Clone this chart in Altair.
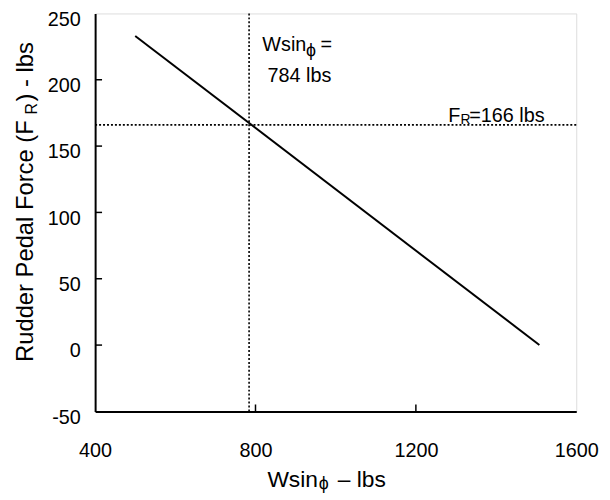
import altair as alt
import pandas as pd

# data
force_x = [500, 1508]
force_y = [233, 0]
x_ticks = [400, 800, 1200, 1600]
y_ticks = [-50, 0, 50, 100, 150, 200, 250]
x_inner_ticks = [800, 1200]
y_inner_ticks = [0, 50, 100, 150, 200]
v_ref = [784]
h_ref = [166]

ann_text = ["Wsin", "ϕ", "=", "784 lbs", "F", "R", "=166 lbs"]
ann_x = [817, 926, 962, 830, 1281, 1311, 1333]
ann_y = [221.4, 218.0, 221.4, 198.5, 168.1, 166.3, 168.1]
ann_size = [20, 18, 20, 20, 20, 14, 20]

FONT = "Liberation Sans"
W, H = 486, 402
XD = [400, 1600]
YD = [-50, 250]

line_df = pd.DataFrame({"x": force_x, "y": force_y})
ann_df = pd.DataFrame({"x": ann_x, "y": ann_y, "t": ann_text, "s": ann_size})

xs = alt.Scale(domain=XD, nice=False, zero=False)
ys = alt.Scale(domain=YD, nice=False, zero=False)

base_line = alt.Chart(line_df).mark_line(color="black", strokeWidth=2).encode(
    x=alt.X("x:Q", scale=xs, axis=alt.Axis(values=x_ticks, title=None, grid=False,
            tickSize=0, labelPadding=30, labelFontSize=20, labelFont=FONT,
            labelExpr="'' + datum.value",
            labelColor="black", domainColor="black", domainWidth=2, labelFlush=False)),
    y=alt.Y("y:Q", scale=ys, axis=alt.Axis(values=y_ticks, title=None, grid=False,
            tickSize=0, labelPadding=15, labelFontSize=20, labelFont=FONT,
            labelExpr="'' + datum.value",
            labelColor="black", domainColor="black", domainWidth=2, labelOffset=6,
            labelFlush=False)),
)

vref = alt.Chart(pd.DataFrame({"v": v_ref})).mark_rule(
    color="black", strokeWidth=1.6, strokeDash=[2, 2]).encode(x=alt.X("v:Q", scale=xs))
href = alt.Chart(pd.DataFrame({"v": h_ref})).mark_rule(
    color="black", strokeWidth=1.6, strokeDash=[2, 2]).encode(y=alt.Y("v:Q", scale=ys))

xt = alt.Chart(pd.DataFrame({"v": x_inner_ticks})).mark_rule(color="black", strokeWidth=1.5).encode(
    x=alt.X("v:Q", scale=xs), y=alt.value(H), y2=alt.value(H - 7))
yt = alt.Chart(pd.DataFrame({"v": y_inner_ticks})).mark_rule(color="black", strokeWidth=1.5).encode(
    y=alt.Y("v:Q", scale=ys), x=alt.value(0), x2=alt.value(7))

ann = alt.Chart(ann_df).mark_text(align="left", baseline="alphabetic", font=FONT, color="black").encode(
    x=alt.X("x:Q", scale=xs), y=alt.Y("y:Q", scale=ys), text="t:N",
    size=alt.Size("s:Q", scale=None))

# axis titles (composed pieces for subscripts)
yt_pieces = pd.DataFrame({
    "t": ["Rudder Pedal Force (F", "R", ") - lbs"],
    "px": [-63, -59, -63],
    "py": [352, 102, 89],
    "s": [24, 16, 24],
})
ytitle = alt.Chart(yt_pieces).mark_text(align="left", baseline="alphabetic", angle=270,
                                        font=FONT, color="black").encode(
    x=alt.X("px:Q", scale=None), y=alt.Y("py:Q", scale=None), text="t:N",
    size=alt.Size("s:Q", scale=None))

xt_pieces = pd.DataFrame({
    "t": ["Wsin", "ϕ", "– lbs"],
    "px": [174, 226, 245],
    "py": [478, 480, 478],
    "s": [23, 18, 23],
})
xtitle = alt.Chart(xt_pieces).mark_text(align="left", baseline="alphabetic",
                                        font=FONT, color="black").encode(
    x=alt.X("px:Q", scale=None), y=alt.Y("py:Q", scale=None), text="t:N",
    size=alt.Size("s:Q", scale=None))

chart = alt.layer(vref, href, base_line, xt, yt, ann, ytitle, xtitle).properties(
    width=W, height=H,
    padding={"left": 88, "top": 3, "right": 26, "bottom": 87},
    autosize=alt.AutoSizeParams(type="none"),
).configure_view(stroke="#808080", strokeWidth=2).configure(background="white")

chart.save("out.html", embed_options={"renderer": "svg", "actions": False})
